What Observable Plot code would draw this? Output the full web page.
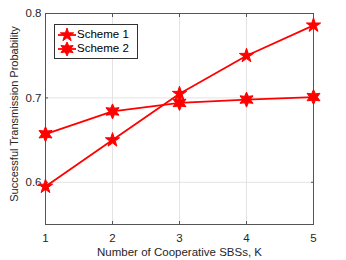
<!DOCTYPE html>
<html><head><meta charset="utf-8">
<script src="https://cdn.jsdelivr.net/npm/d3@7"></script>
<script src="https://cdn.jsdelivr.net/npm/@observablehq/plot@0.6"></script>
<style>
body{margin:0;background:#fff;font-family:"Liberation Sans",Arial,sans-serif}
#wrap{position:relative;width:346px;height:260px}
#legend{position:absolute;left:54px;top:24px;width:82px;height:33px;border:1px solid #333;background:#fff;font-size:11.5px;color:#000}
.row{position:absolute;left:0;height:16px;width:82px}
.row svg{position:absolute;left:0;top:0}
.row span{position:absolute;left:22px;top:1px}
</style></head><body><div id="wrap"></div>
<script>
const K = [1, 2, 3, 4, 5];
const scheme1 = [0.595, 0.650, 0.705, 0.750, 0.786];
const scheme2 = [0.657, 0.684, 0.694, 0.698, 0.701];
const seriesNames = ["Scheme 1", "Scheme 2"];
const yTicks = [0.6, 0.7, 0.8];
const xLabel = "Number of Cooperative SBSs, K";
const yLabel = "Successful Transmission Probability";

function starSymbol(n, ratio) {
  return {draw(ctx, size) {
    const R = Math.sqrt(size / Math.PI);
    for (let i = 0; i < 2 * n; i++) {
      const a = -Math.PI / 2 + i * Math.PI / n;
      const r = i % 2 ? R * ratio : R;
      if (i === 0) ctx.moveTo(r * Math.cos(a), r * Math.sin(a));
      else ctx.lineTo(r * Math.cos(a), r * Math.sin(a));
    }
    ctx.closePath();
  }};
}
const pentagram = starSymbol(5, 0.382);
const hexagram = starSymbol(6, 0.5);
const symbols = [pentagram, hexagram];

const data = [];
[scheme1, scheme2].forEach((s, j) => K.forEach((k, i) => data.push({k, v: s[i], series: seriesNames[j]})));
const d1 = data.filter(d => d.series === seriesNames[0]);
const d2 = data.filter(d => d.series === seriesNames[1]);

const red = "#ff0000";
const blank = () => "";
const plot = Plot.plot({
  width: 346, height: 260,
  marginLeft: 45, marginRight: 33, marginTop: 13, marginBottom: 36,
  style: {fontFamily: "Liberation Sans, Arial, sans-serif", fontSize: "11px", color: "#262626", background: "#fff"},
  x: {domain: [1, 5], ticks: K},
  y: {domain: [0.55, 0.8], ticks: yTicks},
  marks: [
    Plot.gridX(K, {stroke: "#e3e3e3", strokeOpacity: 1}),
    Plot.gridY(yTicks, {stroke: "#e3e3e3", strokeOpacity: 1}),
    Plot.frame({stroke: "#555"}),
    Plot.axisX(K, {tickSize: -3, tickPadding: 12, stroke: "#555", fontSize: 11.5, tickFormat: d => String(d), label: null}),
    Plot.axisX(K, {anchor: "top", tickSize: -3, stroke: "#555", tickFormat: blank, label: null}),
    Plot.axisY(yTicks, {tickSize: -3, tickPadding: 7, stroke: "#555", fontSize: 11.5, tickFormat: d => d.toFixed(1), label: null}),
    Plot.axisY(yTicks, {anchor: "right", tickSize: -3, stroke: "#555", tickFormat: blank, label: null}),
    Plot.text([xLabel], {frameAnchor: "bottom", dy: 31, fontSize: 11.5, fill: "#262626"}),
    Plot.text([yLabel], {frameAnchor: "left", textAnchor: "middle", dx: -31, dy: -5, rotate: -90, fontSize: 11, fill: "#262626"}),
    Plot.line(d1, {x: "k", y: "v", stroke: red, strokeWidth: 1.8}),
    Plot.line(d2, {x: "k", y: "v", stroke: red, strokeWidth: 1.8}),
    Plot.dot(d1, {x: "k", y: "v", symbol: () => pentagram, r: 7.5, fill: red, stroke: red, strokeWidth: 1}),
    Plot.dot(d2, {x: "k", y: "v", symbol: () => hexagram, r: 7.5, fill: red, stroke: red, strokeWidth: 1})
  ]
});
const wrap = document.getElementById("wrap");
wrap.appendChild(plot);

const legend = document.createElement("div");
legend.id = "legend";
seriesNames.forEach((name, j) => {
  const row = document.createElement("div");
  row.className = "row";
  row.style.top = (2 + j * 14) + "px";
  const svg = d3.create("svg").attr("width", 24).attr("height", 16);
  svg.append("line").attr("x1", 3).attr("x2", 21).attr("y1", 8).attr("y2", 8).attr("stroke", red).attr("stroke-width", 1.8);
  svg.append("path").attr("d", d3.symbol(symbols[j], Math.PI * 7 * 7)()).attr("transform", "translate(12,8)").attr("fill", red).attr("stroke", red);
  row.appendChild(svg.node());
  const sp = document.createElement("span");
  sp.textContent = name;
  row.appendChild(sp);
  legend.appendChild(row);
});
wrap.appendChild(legend);
</script></body></html>
